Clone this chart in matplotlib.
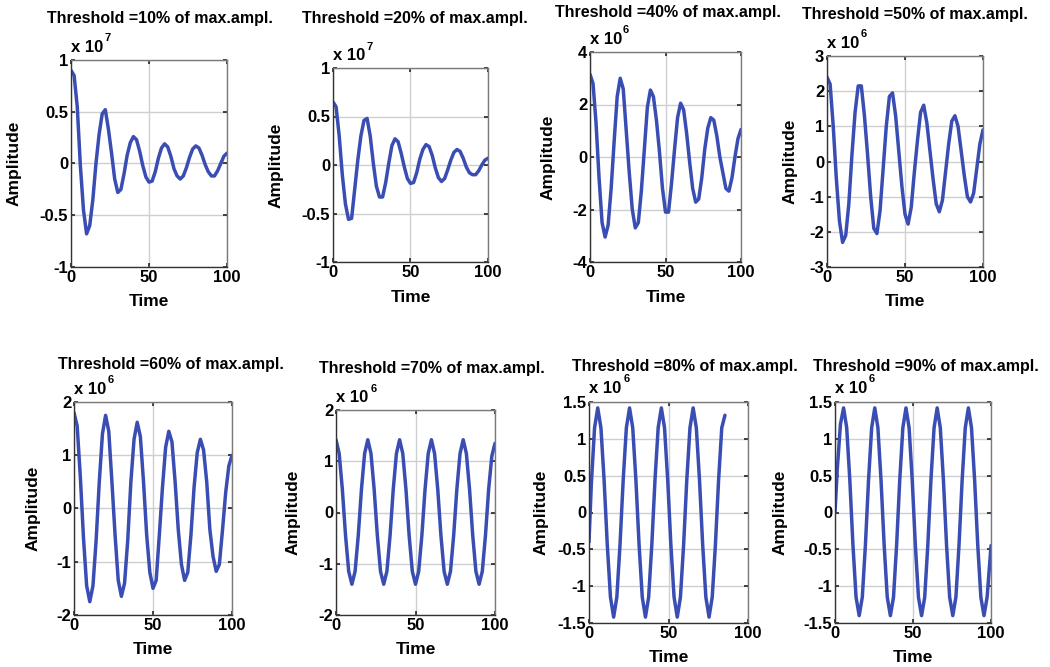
import numpy as np
import matplotlib
matplotlib.use("Agg")
import matplotlib.pyplot as plt

plt.rcParams['font.family'] = ['Liberation Sans', 'DejaVu Sans']
plt.rcParams['font.weight'] = 'bold'

# ---- data -------------------------------------------------------------
thresholds = [10, 20, 40, 50, 60, 70, 80, 90]
exponents = [7, 7, 6, 6, 6, 6, 6, 6]

time_a = np.arange(0, 101, 2)                       # panels 1-6
time_b = np.concatenate(([0.0], np.arange(1.5, 86, 2)))            # panel 7
time_c = np.concatenate(([0.0], np.arange(1.5, 100, 2), [100.0]))  # panel 8

amp_10 = [0.90, 0.85, 0.55, -0.02, -0.45, -0.68, -0.60, -0.35, 0.00, 0.28,
          0.48, 0.52, 0.33, 0.10, -0.15, -0.28, -0.25, -0.10, 0.08, 0.20,
          0.26, 0.23, 0.12, -0.02, -0.13, -0.18, -0.17, -0.08, 0.05, 0.15,
          0.19, 0.16, 0.07, -0.05, -0.12, -0.15, -0.12, -0.04, 0.06, 0.14,
          0.17, 0.15, 0.08, -0.01, -0.08, -0.12, -0.12, -0.07, 0.00, 0.07,
          0.10]
amp_20 = [0.65, 0.60, 0.30, -0.10, -0.40, -0.56, -0.55, -0.25, 0.05, 0.30,
          0.46, 0.48, 0.30, 0.02, -0.22, -0.33, -0.33, -0.18, 0.02, 0.20,
          0.27, 0.24, 0.12, -0.02, -0.14, -0.19, -0.18, -0.08, 0.06, 0.16,
          0.21, 0.19, 0.10, -0.03, -0.13, -0.17, -0.14, -0.05, 0.05, 0.13,
          0.16, 0.14, 0.07, -0.02, -0.08, -0.10, -0.10, -0.06, 0.00, 0.05,
          0.07]
amp_40 = [3.15, 2.80, 1.30, -0.80, -2.50, -3.05, -2.60, -1.20, 0.60, 2.30,
          3.00, 2.60, 1.00, -0.60, -2.00, -2.70, -2.50, -1.30, 0.30, 1.90,
          2.55, 2.30, 1.40, 0.20, -1.20, -2.10, -2.10, -1.00, 0.30, 1.50,
          2.05, 1.80, 0.90, -0.20, -1.20, -1.72, -1.60, -0.80, 0.30, 1.10,
          1.50, 1.40, 0.80, 0.00, -0.60, -1.20, -1.30, -0.80, 0.00, 0.70,
          1.05]
amp_50 = [2.40, 2.20, 1.00, -0.50, -1.70, -2.30, -2.10, -1.20, 0.20, 1.40,
          2.15, 2.15, 1.30, 0.20, -1.00, -1.90, -2.05, -1.40, -0.20, 1.00,
          1.85, 1.95, 1.30, 0.30, -0.70, -1.50, -1.78, -1.30, -0.30, 0.60,
          1.40, 1.60, 1.10, 0.30, -0.50, -1.20, -1.43, -1.10, -0.30, 0.50,
          1.15, 1.30, 1.00, 0.30, -0.40, -1.00, -1.15, -0.90, -0.20, 0.50,
          0.90]
amp_60 = [1.80, 1.55, 0.60, -0.55, -1.45, -1.75, -1.45, -0.60, 0.50, 1.40,
          1.75, 1.45, 0.50, -0.50, -1.35, -1.65, -1.40, -0.60, 0.50, 1.30,
          1.62, 1.35, 0.50, -0.50, -1.20, -1.50, -1.35, -0.50, 0.40, 1.15,
          1.45, 1.25, 0.50, -0.40, -1.05, -1.35, -1.20, -0.50, 0.40, 1.05,
          1.30, 1.10, 0.50, -0.40, -0.90, -1.18, -1.05, -0.40, 0.30, 0.80,
          1.00]
amp_70 = [1.42, 1.15, 0.45, -0.45, -1.15, -1.40, -1.15, -0.45, 0.45, 1.15,
          1.42, 1.15, 0.45, -0.45, -1.15, -1.40, -1.15, -0.45, 0.45, 1.15,
          1.42, 1.15, 0.45, -0.45, -1.15, -1.40, -1.15, -0.45, 0.45, 1.15,
          1.42, 1.15, 0.45, -0.45, -1.15, -1.40, -1.15, -0.45, 0.45, 1.15,
          1.42, 1.15, 0.45, -0.45, -1.15, -1.40, -1.15, -0.45, 0.45, 1.10,
          1.35]
amp_80 = [-0.40, 0.40, 1.15, 1.42, 1.15, 0.44, -0.44, -1.15, -1.42, -1.15,
          -0.44, 0.44, 1.15, 1.42, 1.15, 0.44, -0.44, -1.15, -1.42, -1.15,
          -0.44, 0.44, 1.15, 1.42, 1.15, 0.44, -0.44, -1.15, -1.42, -1.15,
          -0.44, 0.44, 1.15, 1.42, 1.15, 0.44, -0.44, -1.15, -1.42, -1.15,
          -0.44, 0.44, 1.15, 1.32]
amp_90 = [0.00, 0.60, 1.20, 1.42, 1.15, 0.44, -0.44, -1.15, -1.40, -1.15,
          -0.44, 0.44, 1.15, 1.42, 1.15, 0.44, -0.44, -1.15, -1.40, -1.15,
          -0.44, 0.44, 1.15, 1.42, 1.15, 0.44, -0.44, -1.15, -1.40, -1.15,
          -0.44, 0.44, 1.15, 1.42, 1.15, 0.44, -0.44, -1.15, -1.40, -1.15,
          -0.44, 0.44, 1.15, 1.42, 1.15, 0.44, -0.44, -1.15, -1.40, -1.15,
          -0.60, -0.45]

series = [(time_a, amp_10), (time_a, amp_20), (time_a, amp_40), (time_a, amp_50),
          (time_a, amp_60), (time_a, amp_70), (time_b, amp_80), (time_c, amp_90)]

y_ticks = [[-1, -0.5, 0, 0.5, 1], [-1, -0.5, 0, 0.5, 1], [-4, -2, 0, 2, 4],
           [-3, -2, -1, 0, 1, 2, 3], [-2, -1, 0, 1, 2], [-2, -1, 0, 1, 2],
           [-1.5, -1, -0.5, 0, 0.5, 1, 1.5], [-1.5, -1, -0.5, 0, 0.5, 1, 1.5]]
x_ticks = [0, 50, 100]

# ---- layout (pixel boxes: left, top, right, bottom) --------------------
W, H = 1050, 667
boxes = [(71, 60, 227, 267), (333, 68, 488, 262), (590, 52, 741, 262), (827, 56, 983, 267),
         (74, 402, 232, 615), (336, 410, 495, 615), (589, 402, 748, 623), (835, 402, 991, 623)]
title_xy = [(160, 19), (415, 19), (668, 12), (915, 15),
            (171, 365), (432, 368), (685, 367), (926, 367)]
ylabel_x = [14, 276, 548, 790, 33, 293, 541, 780]
xlabel_y = [302, 297, 297, 302, 650, 650, 658, 658]

LINE = '#3a4db3'

fig = plt.figure(figsize=(W / 100, H / 100), dpi=100)

def fmt(v):
    return ('%g' % v)

for i, ((t, a), box) in enumerate(zip(series, boxes)):
    l, tp, r, b = box
    ax = fig.add_axes([l / W, 1 - b / H, (r - l) / W, (b - tp) / H])
    ax.plot(t, a, color=LINE, lw=2.5, solid_joinstyle='round', solid_capstyle='round')
    yt = y_ticks[i]
    ax.set_xlim(0, 100)
    ax.set_ylim(yt[0], yt[-1])
    ax.set_xticks(x_ticks)
    ax.set_yticks(yt)
    ax.set_xticklabels([fmt(v) for v in x_ticks], fontsize=12, fontweight='bold')
    ax.set_yticklabels([fmt(v) for v in yt], fontsize=12, fontweight='bold')
    ax.grid(True, color='#cfcfcf', lw=1.0)
    ax.set_axisbelow(True)
    ax.tick_params(direction='in', length=3, width=1.2, color='#222222',
                   top=True, right=True, pad=2)
    for s in ax.spines.values():
        s.set_color('#7a7a7a')
        s.set_linewidth(1.0)
    ax.spines['left'].set_color('#333333')
    ax.spines['bottom'].set_color('#333333')

    # exponent marker above the y axis
    ax.text(0.0, 1.025, 'x 10', transform=ax.transAxes, ha='left', va='bottom',
            fontsize=12, fontweight='bold')
    ax.text(0.215, 1.08, str(exponents[i]), transform=ax.transAxes, ha='left',
            va='bottom', fontsize=8, fontweight='bold')

    tx, ty = title_xy[i]
    fig.text(tx / W, 1 - ty / H, 'Threshold =%d%% of max.ampl.' % thresholds[i],
             ha='center', va='center', fontsize=11.5, fontweight='bold')
    fig.text(((l + r) / 2) / W, 1 - xlabel_y[i] / H, 'Time', ha='center', va='center',
             fontsize=12.5, fontweight='bold')
    fig.text(ylabel_x[i] / W, 1 - ((tp + b) / 2) / H, 'Amplitude', ha='center',
             va='center', rotation=90, fontsize=12.5, fontweight='bold')

fig.savefig('out.png', dpi=100)
